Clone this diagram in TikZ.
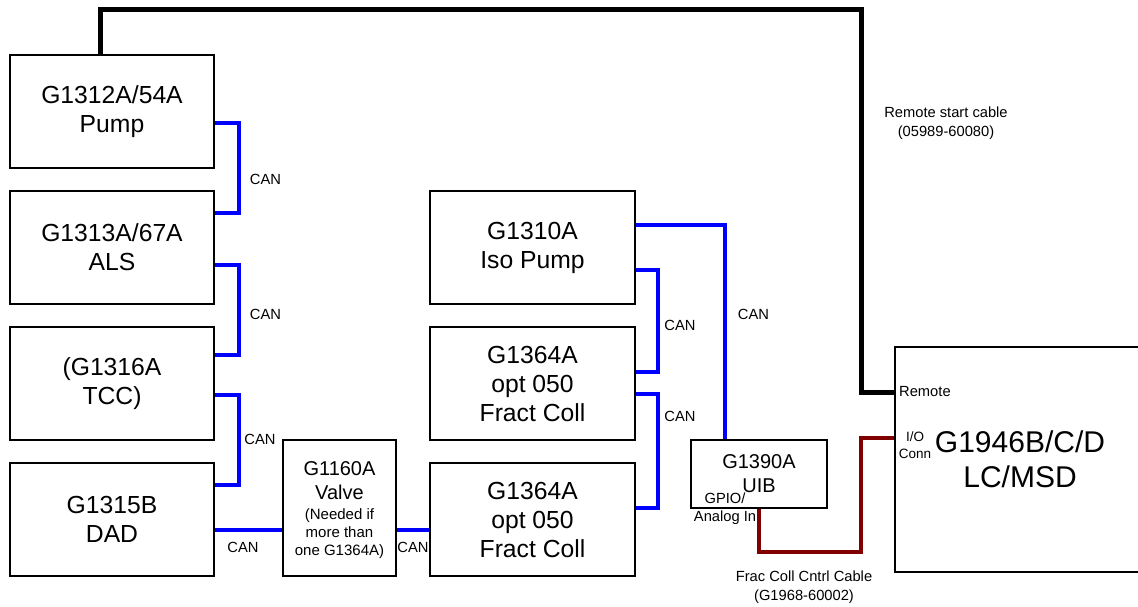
\documentclass[tikz,border=0pt]{standalone}
\usepackage{fontspec}
\setmainfont{Liberation Sans}
\begin{document}
\begin{tikzpicture}[x=1pt,y=-1pt,
  box/.style={draw=black, line width=1.3pt, inner sep=0pt, align=center},
  bigbox/.style={box, minimum width=204pt, minimum height=113pt, font=\fontsize{24.7}{29}\selectfont},
  lbl/.style={inner sep=0pt, align=center, font=\fontsize{14.7}{18.5}\selectfont},
  can/.style={draw={rgb,255:red,0;green,0;blue,255}, line width=4pt},
  remote/.style={draw=black, line width=5pt},
  ctrl/.style={draw={rgb,255:red,128;green,0;blue,0}, line width=4.5pt}]
\useasboundingbox (0,0) rectangle (1138,607);

% boxes
\node[bigbox] (pump) at (112,111.5) {G1312A/54A\\Pump};
\node[bigbox] (als) at (112,247.5) {G1313A/67A\\ALS};
\node[bigbox] (tcc) at (112,383.5) {(G1316A\\TCC)};
\node[bigbox] (dad) at (112,519.5) {G1315B\\DAD};
\node[draw=black, line width=1.3pt, inner sep=0pt, minimum width=113pt, minimum height=136pt] (valve) at (339.5,508)
  {\parbox{111pt}{\vspace*{4pt}\centering\fontsize{20}{24}\selectfont G1160A\\Valve\par
   \vspace{1.5pt}\fontsize{15}{18}\selectfont (Needed if\\more than\\one G1364A)\par}};
\node[bigbox, minimum width=205pt] (iso) at (532.5,247.5) {G1310A\\Iso Pump};
\node[bigbox, minimum width=205pt] (fc1) at (532.5,383.5) {G1364A\\opt 050\\Fract Coll};
\node[bigbox, minimum width=205pt] (fc2) at (532.5,519.5) {G1364A\\opt 050\\Fract Coll};
\node[box, minimum width=136pt, minimum height=68pt, font=\fontsize{20}{24}\selectfont] (uib) at (759,474) {G1390A\\UIB};
\node[box, minimum width=250pt, minimum height=225pt, font=\fontsize{30}{35}\selectfont] (msd) at (1020,459.5) {G1946B/C/D\\LC/MSD};

% CAN connectors
\draw[can] ([yshift=-11.5pt]pump.east) -- ++(24,0) |- ([yshift=34.5pt]als.east);
\draw[can] ([yshift=-17.5pt]als.east) -- ++(24,0) |- ([yshift=28.5pt]tcc.east);
\draw[can] ([yshift=-11.5pt]tcc.east) -- ++(24,0) |- ([yshift=34.5pt]dad.east);
\draw[can] ([yshift=-10.5pt]dad.east) -- ([yshift=-22pt]valve.west);
\draw[can] ([yshift=-22pt]valve.east) -- ([yshift=-10.5pt]fc2.west);
\draw[can] ([yshift=22.5pt]iso.east) -| ([xshift=-34pt]uib.north);
\draw[can] ([yshift=-22.5pt]iso.east) -- ++(22,0) |- ([yshift=11.5pt]fc1.east);
\draw[can] ([yshift=-10.5pt]fc1.east) -- ++(22,0) |- ([yshift=11.5pt]fc2.east);

% remote start cable
\coordinate (rtop1) at (100,10);
\coordinate (rtop2) at (861,10);
\draw[remote] ([xshift=-12pt]pump.north) -- (rtop1) -- (rtop2) |- ([yshift=67.5pt]msd.west);

% frac coll control cable
\coordinate (cc) at (861,552);
\draw[ctrl] (uib.south) |- (cc) |- ([yshift=21.5pt]msd.west);

% labels
\node[lbl] (can1) at (265.5,179) {CAN};
\node[lbl] (can2) at (265.5,314) {CAN};
\node[lbl] (can3) at (260,439.5) {CAN};
\node[lbl] (can4) at (243,547) {CAN};
\node[lbl] (can5) at (413,547) {CAN};
\node[lbl] (can6) at (680,325.5) {CAN};
\node[lbl] (can7) at (680,416) {CAN};
\node[lbl] (can8) at (753.5,314.5) {CAN};
\node[lbl] (rsc) at (946,123) {Remote start cable\\(05989-60080)};
\node[lbl] (fcc) at (804,587) {Frac Coll Cntrl Cable\\(G1968-60002)};
\node[lbl, anchor=west] (rem) at (899,391.5) {Remote};
\node[lbl, font=\fontsize{13.5}{16.5}\selectfont] (ioc) at (915,445) {I/O\\Conn};
\node[lbl] (gpio) at (725,508.5) {GPIO/\\Analog In};
\end{tikzpicture}
\end{document}
